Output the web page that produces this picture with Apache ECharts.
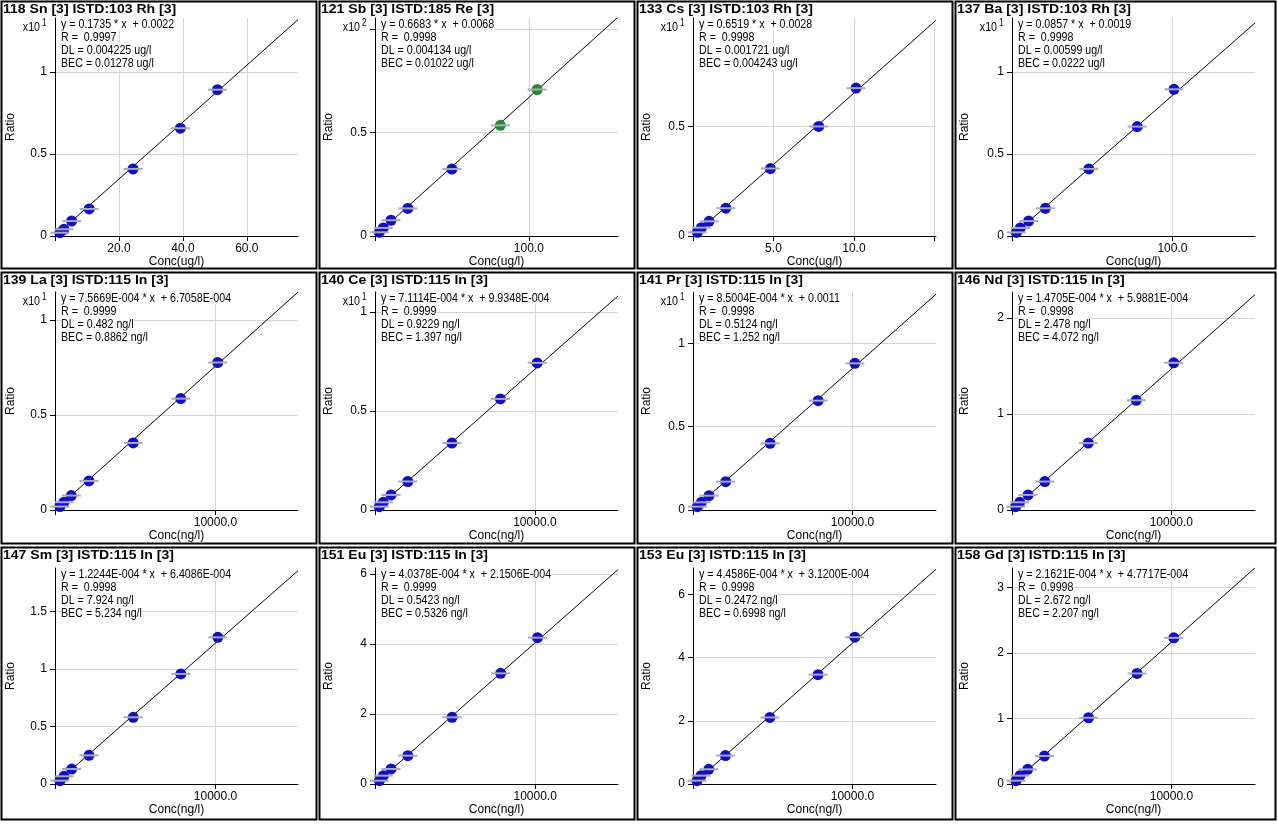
<!DOCTYPE html>
<html><head><meta charset="utf-8">
<script src="https://cdn.jsdelivr.net/npm/echarts@6/dist/echarts.min.js"></script>
<style>html,body{margin:0;padding:0;background:#fff;}#c{width:1278px;height:830px;}</style>
</head><body><div id="c"></div>
<script>
// ---------- data ----------
const titles = ['118 Sn [3] ISTD:103 Rh [3]','121 Sb [3] ISTD:185 Re [3]','133 Cs [3] ISTD:103 Rh [3]','137 Ba [3] ISTD:103 Rh [3]',
  '139 La [3] ISTD:115 In [3]','140 Ce [3] ISTD:115 In [3]','141 Pr [3] ISTD:115 In [3]','146 Nd [3] ISTD:115 In [3]',
  '147 Sm [3] ISTD:115 In [3]','151 Eu [3] ISTD:115 In [3]','153 Eu [3] ISTD:115 In [3]','158 Gd [3] ISTD:115 In [3]'];
const units = ['ug/l','ug/l','ug/l','ug/l','ng/l','ng/l','ng/l','ng/l','ng/l','ng/l','ng/l','ng/l'];
const slopeText = ['0.1735','0.6683','0.6519','0.0857','7.5669E-004','7.1114E-004','8.5004E-004','1.4705E-004','1.2244E-004','4.0378E-004','4.4586E-004','2.1621E-004'];
const interceptText = ['0.0022','0.0068','0.0028','0.0019','6.7058E-004','9.9348E-004','0.0011','5.9881E-004','6.4086E-004','2.1506E-004','3.1200E-004','4.7717E-004'];
const rValues = ['0.9997','0.9998','0.9998','0.9998','0.9999','0.9999','0.9998','0.9998','0.9998','0.9999','0.9998','0.9998'];
const dlValues = ['0.004225','0.004134','0.001721','0.00599','0.482','0.9229','0.5124','2.478','7.924','0.5423','0.2472','2.672'];
const becValues = ['0.01278','0.01022','0.004243','0.0222','0.8862','1.397','1.252','4.072','5.234','0.5326','0.6998','2.207'];
const ratioExponent = [1,2,1,1,1,1,1,0,0,0,0,0];   // axis shows Ratio / 10^n
const xMax = [76,158,15.1,151.5,15150,15200,15230,15250,15140,15170,15240,15240];
const yMax = [1.329,1.052,0.995,1.329,1.147,1.101,1.308,2.271,1.878,6.171,6.835,3.293];
const xInterval = [20,100,5,100,10000,10000,10000,10000,10000,10000,10000,10000];
const yInterval = [0.5,0.5,0.5,0.5,0.5,0.5,0.5,1,0.5,2,2,1];
const xTickLabels = [['20.0','40.0','60.0'],['100.0'],['5.0','10.0'],['100.0'],['10000.0'],['10000.0'],['10000.0'],['10000.0'],['10000.0'],['10000.0'],['10000.0'],['10000.0']];
const yTickLabels = [['0','0.5','1'],['0','0.5'],['0','0.5'],['0','0.5','1'],['0','0.5','1'],['0','0.5','1'],['0','0.5','1'],['0','1','2'],['0','0.5','1','1.5'],['0','2','4','6'],['0','2','4','6'],['0','1','2','3']];

const conc_Sn118 = [1.55,2.8,5.2,10.7,24.4,39.2,50.8];
const ratio_Sn118 = [0.020,0.041,0.091,0.165,0.409,0.657,0.892];
const conc_Sb121 = [2.8,5.4,10.4,21.3,50.0,81.5,105.4];
const ratio_Sb121 = [0.018,0.039,0.076,0.133,0.323,0.534,0.707];
const conc_Cs133 = [0.27,0.52,1.0,2.04,4.81,7.81,10.13];
const ratio_Cs133 = [0.017,0.038,0.067,0.127,0.308,0.500,0.675];
const conc_Ba137 = [2.7,5.2,10.4,20.8,47.9,78.1,101];
const ratio_Ba137 = [0.022,0.049,0.091,0.169,0.409,0.667,0.894];
const conc_La139 = [311,560,1017,2116,4876,7842,10145];
const ratio_La139 = [0.018,0.041,0.076,0.153,0.353,0.586,0.776];
const conc_Ce140 = [272,523,1004,2050,4812,7845,10146];
const ratio_Ce140 = [0.017,0.039,0.076,0.144,0.338,0.561,0.743];
const conc_Pr141 = [272,523,1004,2050,4833,7845,10146];
const ratio_Pr141 = [0.020,0.046,0.086,0.170,0.400,0.656,0.880];
const conc_Nd146 = [231,483,1008,2059,4790,7794,10147];
const ratio_Nd146 = [0.035,0.080,0.157,0.296,0.697,1.143,1.533];
const conc_Sm147 = [311,560,1037,2116,4876,7842,10145];
const ratio_Sm147 = [0.029,0.067,0.130,0.249,0.580,0.957,1.275];
const conc_Eu151 = [272,523,1004,2050,4812,7845,10146];
const ratio_Eu151 = [0.095,0.238,0.429,0.810,1.905,3.162,4.180];
const conc_Eu153 = [252,503,985,2034,4822,7841,10147];
const ratio_Eu153 = [0.106,0.265,0.466,0.900,2.106,3.460,4.646];
const conc_Gd158 = [252,503,985,2034,4801,7841,10147];
const ratio_Gd158 = [0.051,0.127,0.223,0.426,1.010,1.685,2.228];
const greenPointIndex = [[],[5,6],[],[],[],[],[],[],[],[],[],[]];

const concs = [conc_Sn118,conc_Sb121,conc_Cs133,conc_Ba137,conc_La139,conc_Ce140,conc_Pr141,conc_Nd146,conc_Sm147,conc_Eu151,conc_Eu153,conc_Gd158];
const ratios = [ratio_Sn118,ratio_Sb121,ratio_Cs133,ratio_Ba137,ratio_La139,ratio_Ce140,ratio_Pr141,ratio_Nd146,ratio_Sm147,ratio_Eu151,ratio_Eu153,ratio_Gd158];

// ---------- layout ----------
const colPlotLeft = [55,375,693,1012];
const plotW = 243;
const rowPlotTop = [18,292,568];
const rowPlotH = [218,218,216];
const panelX = [1,319,637,955], panelW = [315,315,315,320];
const panelY = [1,272,547], panelH = [267,271,272];
const AXFONT = "'Liberation Sans',Arial,sans-serif";
const NARROW = 0.82;
const BLUE = '#1010c0', GREEN = '#2a8a2a', DASH = '#a8a8c4';

function tickValues(max, step) {
  const out = [];
  for (let k = 0; k * step <= max + 1e-9; k++) out.push(+(k * step).toFixed(6));
  return out;
}

const grids = [], xAxes = [], yAxes = [], series = [], graphics = [];
for (let i = 0; i < 12; i++) {
  const r = Math.floor(i / 4), c = i % 4;
  const L = colPlotLeft[c], T = rowPlotTop[r], H = rowPlotH[r];
  grids.push({left: L, top: T, width: plotW, height: H, containLabel: false, outerBoundsMode: 'none'});
  const xl = xTickLabels[i], yl = yTickLabels[i];
  const xt = tickValues(xMax[i], xInterval[i]), yt = tickValues(yMax[i], yInterval[i]);
  xAxes.push({type: 'value', gridIndex: i, min: 0, max: xMax[i], interval: xInterval[i],
    name: 'Conc(' + units[i] + ')', nameLocation: 'middle', nameGap: 20,
    nameTextStyle: {color: '#000', fontFamily: AXFONT, fontSize: 12},
    axisLine: {show: true, onZero: false, lineStyle: {color: '#000', width: 1}},
    axisTick: {show: true, length: 5, inside: false, customValues: xt, lineStyle: {color: '#000'}},
    axisLabel: {show: true, margin: 7, color: '#000', fontFamily: AXFONT, fontSize: 12, customValues: xt,
      formatter: v => { const s = (+v).toFixed(1); return xl.indexOf(s) >= 0 ? s : ''; }},
    splitLine: {show: true, lineStyle: {color: '#d6d6d6', width: 1}}
  });
  yAxes.push({type: 'value', gridIndex: i, min: 0, max: yMax[i], interval: yInterval[i],
    name: 'Ratio', nameLocation: 'middle', nameGap: L - panelX[c] - 16, nameRotate: 90,
    nameTextStyle: {color: '#000', fontFamily: AXFONT, fontSize: 12},
    axisLine: {show: true, onZero: false, lineStyle: {color: '#000', width: 1}},
    axisTick: {show: true, length: 5, customValues: yt, lineStyle: {color: '#000'}},
    axisLabel: {show: true, margin: 8, color: '#000', fontFamily: AXFONT, fontSize: 12, customValues: yt,
      formatter: v => { const s = String(+(+v).toFixed(3)); return yl.indexOf(s) >= 0 ? s : ''; }},
    splitLine: {show: true, lineStyle: {color: '#d6d6d6', width: 1}}
  });
  const mult = Math.pow(10, ratioExponent[i]);
  const s = parseFloat(slopeText[i]), b = parseFloat(interceptText[i]);
  series.push({type: 'line', xAxisIndex: i, yAxisIndex: i, symbol: 'none', silent: true, clip: true, z: 2,
    lineStyle: {color: '#000', width: 1},
    data: [[0, b / mult], [xMax[i], (s * xMax[i] + b) / mult]]});
  const pts = concs[i].map((x, k) => ({value: [x, ratios[i][k]],
    itemStyle: {color: greenPointIndex[i].indexOf(k) >= 0 ? GREEN : BLUE, opacity: 1}}));
  series.push({type: 'scatter', xAxisIndex: i, yAxisIndex: i, symbol: 'circle', symbolSize: 11, z: 3,
    silent: true, itemStyle: {opacity: 1}, data: pts});
  series.push({type: 'scatter', xAxisIndex: i, yAxisIndex: i, symbol: 'rect', symbolSize: [19, 2], z: 4,
    silent: true, itemStyle: {color: DASH, opacity: 1}, data: concs[i].map((x, k) => [x, ratios[i][k]])});

  // panel frame
  graphics.push({type: 'rect', shape: {x: panelX[c] + 0.5, y: panelY[r] + 0.5, width: panelW[c], height: panelH[r]},
    style: {fill: null, stroke: '#000', lineWidth: 2}, z: 100});
  // title
  graphics.push({type: 'text', x: panelX[c] + 2, y: panelY[r] + 8, scaleX: 1.08,
    style: {text: titles[i], fill: '#000', font: "bold 13px 'Liberation Sans',Arial,sans-serif", verticalAlign: 'middle'}, z: 100});
  // info block
  const lines = ['y = ' + slopeText[i] + ' * x  + ' + interceptText[i], 'R =  ' + rValues[i],
    'DL = ' + dlValues[i] + ' ' + units[i], 'BEC = ' + becValues[i] + ' ' + units[i]];
  lines.forEach((t, k) => graphics.push({type: 'text', x: L + 6, y: T + 6 + 13 * k, scaleX: NARROW,
    style: {text: t, fill: '#000', font: '13px ' + AXFONT, verticalAlign: 'middle', backgroundColor: '#fff'}, z: 90}));
  // multiplier
  if (ratioExponent[i] > 0) {
    graphics.push({type: 'text', x: L - 15, y: T + 9, scaleX: NARROW,
      style: {text: 'x10', fill: '#000', font: '13px ' + AXFONT, align: 'right', verticalAlign: 'middle', backgroundColor: '#fff'}, z: 90});
    graphics.push({type: 'text', x: L - 13, y: T + 5, scaleX: NARROW,
      style: {text: String(ratioExponent[i]), fill: '#000', font: '10px ' + AXFONT, align: 'left', verticalAlign: 'middle'}, z: 90});
  }
}

const chart = echarts.init(document.getElementById('c'), null, {renderer: 'canvas'});
chart.setOption({animation: false, backgroundColor: '#fff', grid: grids, xAxis: xAxes, yAxis: yAxes, series: series, graphic: graphics});
</script></body></html>
